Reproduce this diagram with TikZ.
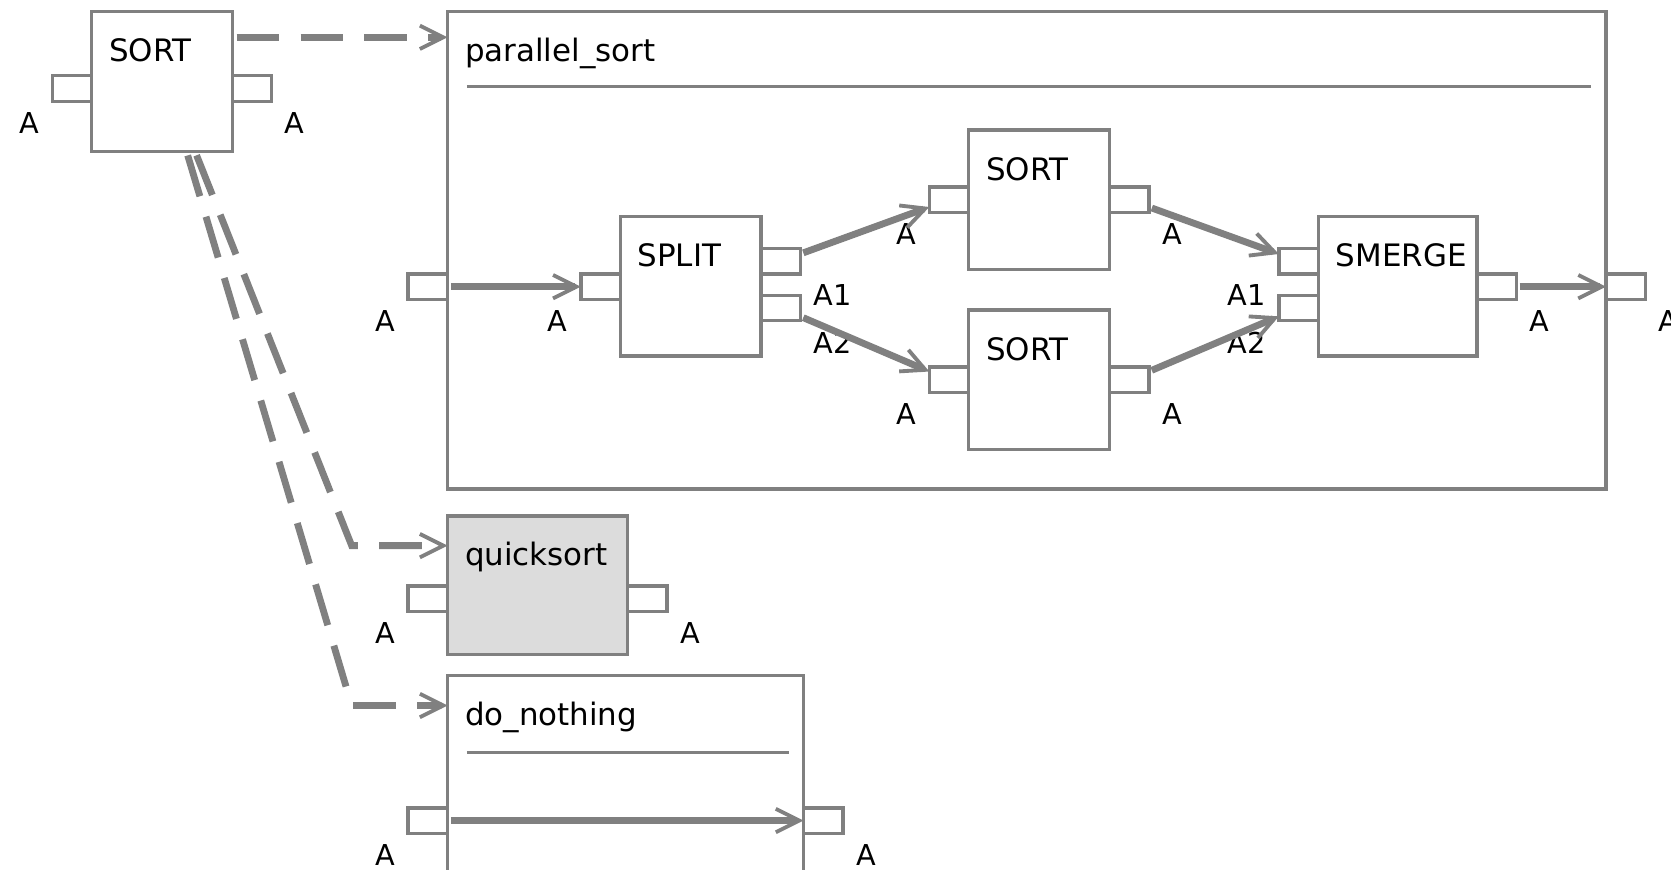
\documentclass[tikz,border=0pt]{standalone}
\usepackage{fontspec}
\setmainfont{DejaVu Sans}
\usepackage{xcolor}
\usetikzlibrary{arrows.meta,positioning}
\definecolor{wiregray}{RGB}{128,128,128}
\definecolor{implgray}{RGB}{220,220,220}

\begin{document}
\begin{tikzpicture}[x=0.5pt, y=-0.5pt,
  blk/.style={rectangle, draw=wiregray, line width=1.6pt, fill=white, anchor=north west,
    inner sep=0pt, outer sep=0pt},
  port/.style={rectangle, draw=wiregray, line width=1.6pt, fill=white, minimum width=18.5pt,
    minimum height=12pt, inner sep=0pt, outer sep=0pt},
  ttl/.style={anchor=base west, inner sep=0pt, font=\fontsize{14.5pt}{17pt}\selectfont},
  plbl/.style={inner sep=0pt, font=\fontsize{13.5pt}{16pt}\selectfont},
  titlerule/.style={wiregray, line width=1.6pt},
  flow/.style={-{Straight Barb[length=11pt, width=11pt, line width=1.8pt]}, wiregray,
    line width=3.2pt, shorten <=1.5pt},
  dep/.style={-{Straight Barb[length=11pt, width=11pt, line width=1.8pt]}, wiregray,
    line width=3.2pt, dash pattern=on 20pt off 10pt, shorten <=2pt}]
\path[use as bounding box, fill=white] (0,0) rectangle (1568,816);

% component boxes
\node[blk, minimum width=66pt, minimum height=65.5pt] (sort) at (86,11) {};
\node[blk, minimum width=543.5pt, minimum height=224pt] (psort) at (420,11) {};
\node[blk, minimum width=66pt, minimum height=65.5pt] (split) at (582,203) {};
\node[blk, minimum width=66pt, minimum height=65.5pt] (sortA) at (909,122) {};
\node[blk, minimum width=66pt, minimum height=65.5pt] (sortB) at (909,291) {};
\node[blk, minimum width=74.5pt, minimum height=65.5pt] (smerge) at (1237,203) {};
\node[blk, fill=implgray, minimum width=84.5pt, minimum height=65pt] (qsort) at (420,484) {};
\node[blk, minimum width=167pt, minimum height=120pt] (dnothing) at (420,634) {};

\foreach \b/\t in {sort/SORT, psort/parallel\_sort, split/SPLIT, sortA/SORT, sortB/SORT,
    smerge/SMERGE, qsort/quicksort, dnothing/do\_nothing}
  \node[ttl] (\b-t) at ([shift={(8pt,-23.5pt)}]\b.north west) {\t};

\draw[titlerule] ([shift={(9pt,-35pt)}]psort.north west) -- ([shift={(-7pt,-35pt)}]psort.north east);
\draw[titlerule] ([shift={(9pt,-36pt)}]dnothing.north west) -- ([shift={(-7pt,-36pt)}]dnothing.north east);

% ports
\node[port] (sortIn) at ([shift={(-9.25pt,-36pt)}]sort.north west) {};
\node[port] (sortOut) at ([shift={(9.25pt,-36pt)}]sort.north east) {};
\node[port] (psortIn) at ([shift={(-9.25pt,-129pt)}]psort.north west) {};
\node[port] (psortOut) at ([shift={(9.25pt,-129pt)}]psort.north east) {};
\node[port] (splitIn) at ([shift={(-9.25pt,-33pt)}]split.north west) {};
\node[port] (splitA1) at ([shift={(9.25pt,-21pt)}]split.north east) {};
\node[port] (splitA2) at ([shift={(9.25pt,-43pt)}]split.north east) {};
\node[port] (sortAIn) at ([shift={(-9.25pt,-32.75pt)}]sortA.north west) {};
\node[port] (sortAOut) at ([shift={(9.25pt,-32.75pt)}]sortA.north east) {};
\node[port] (sortBIn) at ([shift={(-9.25pt,-32.75pt)}]sortB.north west) {};
\node[port] (sortBOut) at ([shift={(9.25pt,-32.75pt)}]sortB.north east) {};
\node[port] (smergeA1) at ([shift={(-9.25pt,-21pt)}]smerge.north west) {};
\node[port] (smergeA2) at ([shift={(-9.25pt,-43pt)}]smerge.north west) {};
\node[port] (smergeOut) at ([shift={(9.25pt,-33pt)}]smerge.north east) {};
\node[port] (qsortIn) at ([shift={(-9.25pt,-39pt)}]qsort.north west) {};
\node[port] (qsortOut) at ([shift={(9.25pt,-39pt)}]qsort.north east) {};
\node[port] (dnIn) at ([shift={(-9.25pt,-68pt)}]dnothing.north west) {};
\node[port] (dnOut) at ([shift={(9.25pt,-68pt)}]dnothing.north east) {};

% port names
\foreach \p/\t in {sortIn/A, psortIn/A, splitIn/A, sortAIn/A, sortBIn/A, smergeA1/A1,
    smergeA2/A2, qsortIn/A, dnIn/A}
  \node[plbl, below left=5pt and 6pt of \p] (\p-l) {\t};
\foreach \p/\t in {sortOut/A, psortOut/A, splitA1/A1, splitA2/A2, sortAOut/A, sortBOut/A,
    smergeOut/A, qsortOut/A, dnOut/A}
  \node[plbl, below right=5pt and 6pt of \p] (\p-l) {\t};

% data flow
\foreach \a/\b in {psortIn/splitIn, splitA1/sortAIn, splitA2/sortBIn, sortAOut/smergeA1,
    sortBOut/smergeA2, smergeOut/psortOut, dnIn/dnOut}
  \draw[flow] (\a) -- (\b);

% implementations of SORT
\draw[dep] ([yshift=-12pt]sort.north east) -- ([yshift=-12pt]psort.north west);
\draw[dep] ([xshift=15.5pt]sort.south) -- ([shift={(-45pt,-14pt)}]qsort.north west)
  -- ([yshift=-14pt]qsort.north west);
\draw[dep] ([xshift=11.5pt]sort.south) -- ([shift={(-45pt,-14pt)}]dnothing.north west)
  -- ([yshift=-14pt]dnothing.north west);
\end{tikzpicture}
\end{document}
